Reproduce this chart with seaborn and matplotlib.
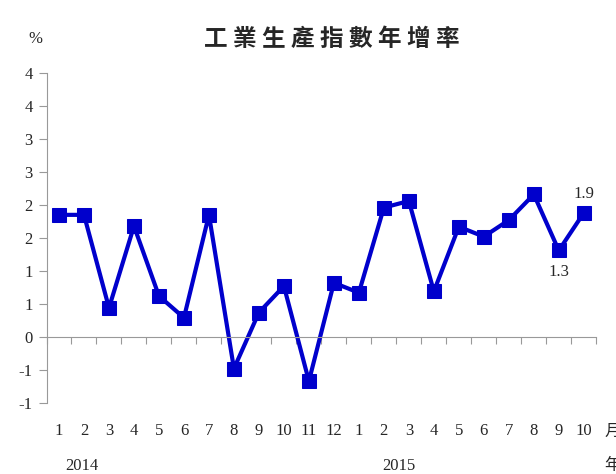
import numpy as np
import pandas as pd
import seaborn as sns
import matplotlib.pyplot as plt

# Monthly year-on-year growth of industrial production (%)
months = ['1', '2', '3', '4', '5', '6', '7', '8', '9', '10', '11', '12',
          '1', '2', '3', '4', '5', '6', '7', '8', '9', '10']
values = [1.85, 1.85, 0.44, 1.68, 0.62, 0.29, 1.85, -0.48, 0.37, 0.77, -0.67, 0.82,
          0.67, 1.96, 2.06, 0.69, 1.67, 1.52, 1.77, 2.16, 1.31, 1.88]
years = ['2014', '2015']
year_pos = [0.9, 13.6]
ytick_values = [-1.0, -0.5, 0.0, 0.5, 1.0, 1.5, 2.0, 2.5, 3.0, 3.5, 4.0]
ytick_labels = ['-1', '-1', '0', '1', '1', '2', '2', '3', '3', '4', '4']
notes = {20: '1.3', 21: '1.9'}

df = pd.DataFrame({'idx': np.arange(len(values)), 'value': values})

sns.set_style('white')
plt.rcParams['font.family'] = ['Liberation Serif', 'Noto Sans CJK TC', 'DejaVu Sans']

fig = plt.figure(figsize=(6.16, 4.74), dpi=100)
ax = fig.add_axes([0.0755, 0.150, 0.8925, 0.696])

blue = '#0000CC'
sns.lineplot(data=df, x='idx', y='value', ax=ax, color=blue, linewidth=3,
             marker='s', markersize=10, markeredgecolor=blue, markerfacecolor=blue)

ax.set_xlim(-0.5, len(values) - 0.5)
ax.set_ylim(-1, 4)
ax.set_xlabel('')
ax.set_ylabel('')

# axis styling
grey = '#999999'
for s in ['top', 'right']:
    ax.spines[s].set_visible(False)
ax.spines['left'].set_color(grey)
ax.spines['bottom'].set_color(grey)
ax.spines['bottom'].set_position(('data', 0))

ax.set_yticks(ytick_values)
ax.set_yticklabels(ytick_labels, fontsize=12)
ax.set_xticks(np.arange(-0.5, len(values), 1.0))
ax.set_xticklabels([])
ax.tick_params(axis='y', direction='out', length=6, color=grey, left=True, pad=4)
ax.tick_params(axis='x', direction='out', length=5, color=grey, bottom=True)

# month labels and year labels at the bottom
xt = ax.get_xaxis_transform()
for i, m in enumerate(months):
    ax.text(i, -0.085, m, transform=xt, ha='center', va='center', fontsize=12)
for p, y in zip(year_pos, years):
    ax.text(p, -0.19, y, transform=xt, ha='center', va='center', fontsize=12)
ax.text(21.82, -0.085, '月', transform=xt, ha='left', va='center', fontsize=12,
        family=['Noto Sans CJK TC'], clip_on=False)
ax.text(21.82, -0.19, '年', transform=xt, ha='left', va='center', fontsize=12,
        family=['Noto Sans CJK TC'], clip_on=False)

# data labels
ax.text(20, values[20] - 0.33, notes[20], ha='center', va='center', fontsize=12)
ax.text(21, values[21] + 0.29, notes[21], ha='center', va='center', fontsize=12)

fig.text(0.057, 0.918, '%', ha='center', va='center', fontsize=12)
fig.text(0.539, 0.918, '工 業 生 產 指 數 年 增 率', ha='center', va='center', fontsize=17,
         fontweight='bold', family=['Noto Sans CJK TC'])

plt.savefig('out.png', dpi=100)
plt.close()
